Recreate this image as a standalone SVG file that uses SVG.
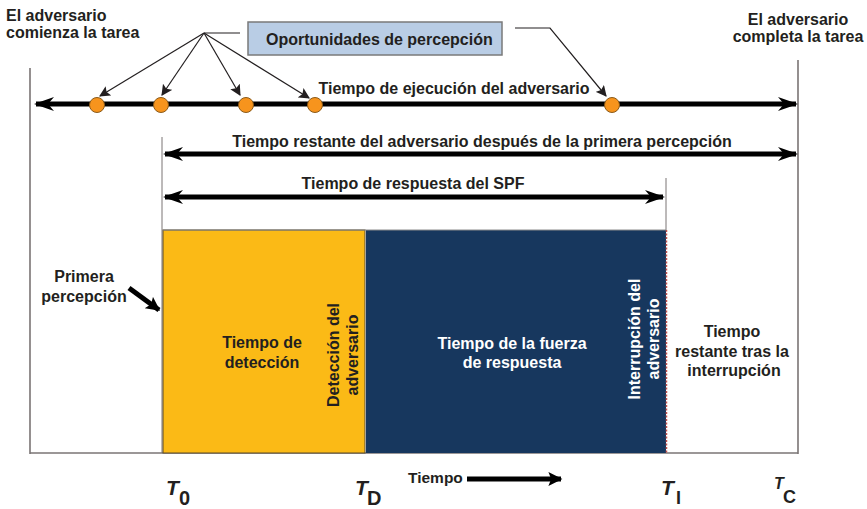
<svg xmlns="http://www.w3.org/2000/svg" width="867" height="509" viewBox="0 0 867 509">
<defs>
<style>
text{font-family:"Liberation Sans",Arial,sans-serif;font-weight:bold;fill:#231F20}
.t14{font-size:16px}
.w{fill:#ffffff}
.thin{stroke:#7a7474;stroke-width:1.6;fill:none}
.thick{stroke:#000;stroke-width:5;fill:none}
.call{stroke:#231F20;stroke-width:1.2;fill:none}
.dot{fill:#F7941D;stroke:#8a5a1a;stroke-width:1}
</style>
<marker id="ah" viewBox="0 0 20 14" refX="18" refY="7" markerWidth="20" markerHeight="14" markerUnits="userSpaceOnUse" orient="auto-start-reverse">
<path d="M0,0 L20,7 L0,14 L6,7 Z" fill="#000"/>
</marker>
<marker id="sa" viewBox="0 0 10 10" refX="9" refY="5" markerWidth="11" markerHeight="11" markerUnits="userSpaceOnUse" orient="auto">
<path d="M0,0 L10,5 L0,10 L2,5 Z" fill="#231F20"/>
</marker>
<marker id="ba" viewBox="0 0 10 10" refX="9" refY="5" markerWidth="16" markerHeight="14" markerUnits="userSpaceOnUse" orient="auto">
<path d="M0,0 L10,5 L0,10 L2,5 Z" fill="#000"/>
</marker>
</defs>

<g id="frame">
<line class="thin" x1="30" y1="68" x2="30" y2="454"/>
<line class="thin" x1="798" y1="60" x2="798" y2="454"/>
<line class="thin" x1="30" y1="453" x2="798" y2="453"/>
<line class="thin" x1="162" y1="137" x2="162" y2="453" style="stroke-width:1"/>
<line class="thin" x1="666" y1="178" x2="666" y2="230" style="stroke-width:1"/>
</g>

<g id="detection">
<rect x="163" y="230" width="202" height="223" fill="#FBBA16" stroke="#5a4a2a" stroke-width="1"/>
<text class="t14" x="262" y="348" text-anchor="middle">Tiempo de</text>
<text class="t14" x="262" y="368" text-anchor="middle">detección</text>
<text class="t14" transform="translate(339,355) rotate(-90)" text-anchor="middle">Detección del</text>
<text class="t14" transform="translate(358,355) rotate(-90)" text-anchor="middle">adversario</text>
</g>

<g id="response">
<rect x="366" y="230" width="300" height="223" fill="#17375E"/>
<line x1="666.5" y1="230" x2="666.5" y2="453" stroke="#c0504d" stroke-width="1.5" stroke-dasharray="2,1.5"/>
<text class="t14 w" x="512" y="349" text-anchor="middle">Tiempo de la fuerza</text>
<text class="t14 w" x="512" y="368" text-anchor="middle">de respuesta</text>
<text class="t14 w" transform="translate(640,339) rotate(-90)" text-anchor="middle">Interrupción del</text>
<text class="t14 w" transform="translate(659,339) rotate(-90)" text-anchor="middle">adversario</text>
</g>
<line x1="163" y1="230" x2="666" y2="230" stroke="#8a8a8a" stroke-width="1"/>

<g id="remaining">
<text class="t14" x="732" y="337" text-anchor="middle">Tiempo</text>
<text class="t14" x="732" y="357" text-anchor="middle">restante tras la</text>
<text class="t14" x="734" y="376" text-anchor="middle">interrupción</text>
</g>

<g id="labels">
<text class="t14" x="6" y="21">El adversario</text>
<text class="t14" x="6" y="38">comienza la tarea</text>
<text class="t14" x="798" y="25" text-anchor="middle">El adversario</text>
<text class="t14" x="798" y="42" text-anchor="middle">completa la tarea</text>
<text class="t14" x="84" y="282" text-anchor="middle">Primera</text>
<text class="t14" x="84" y="302" text-anchor="middle">percepción</text>
<text class="t14" x="454" y="94" text-anchor="middle">Tiempo de ejecución del adversario</text>
<text class="t14" x="482" y="147" text-anchor="middle">Tiempo restante del adversario después de la primera percepción</text>
<text class="t14" x="413" y="189" text-anchor="middle">Tiempo de respuesta del SPF</text>
</g>

<g id="callout">
<rect x="248" y="22" width="254" height="33" fill="#B9CDE5" stroke="#7a7a7a" stroke-width="1.5"/>
<text class="t14" x="266" y="45">Oportunidades de percepción</text>
</g>

<g id="connectors">
<line class="thick" x1="36" y1="104" x2="796" y2="104" marker-start="url(#ah)" marker-end="url(#ah)"/>
<line class="thick" x1="165" y1="154" x2="796" y2="154" marker-start="url(#ah)" marker-end="url(#ah)"/>
<line class="thick" x1="165" y1="197" x2="663" y2="197" marker-start="url(#ah)" marker-end="url(#ah)"/>
<line class="call" x1="204" y1="33" x2="240" y2="33"/>
<line class="call" x1="204" y1="33" x2="100" y2="96" marker-end="url(#sa)"/>
<line class="call" x1="204" y1="33" x2="162" y2="95" marker-end="url(#sa)"/>
<line class="call" x1="204" y1="33" x2="240" y2="95" marker-end="url(#sa)"/>
<line class="call" x1="204" y1="33" x2="309" y2="98" marker-end="url(#sa)"/>
<polyline class="call" points="515,28 550,28 606,96" marker-end="url(#sa)"/>
<line x1="129" y1="288" x2="159" y2="310" stroke="#000" stroke-width="5" marker-end="url(#ba)"/>
<line x1="467" y1="479" x2="561" y2="479" stroke="#000" stroke-width="5" marker-end="url(#ba)"/>
</g>

<g id="dots">
<circle class="dot" cx="97" cy="105" r="7.5"/>
<circle class="dot" cx="161" cy="105" r="7.5"/>
<circle class="dot" cx="246" cy="105" r="7.5"/>
<circle class="dot" cx="315" cy="105" r="7.5"/>
<circle class="dot" cx="612" cy="105" r="7.5"/>
</g>

<g id="axis">
<text x="408" y="483" style="font-size:15.5px">Tiempo</text>
<text x="166" y="495" style="font-size:21px;font-style:italic">T</text>
<text x="179" y="505" style="font-size:20px">0</text>
<text x="355" y="495" style="font-size:21px;font-style:italic">T</text>
<text x="367" y="505" style="font-size:20px">D</text>
<text x="661" y="495" style="font-size:21px;font-style:italic">T</text>
<text x="676" y="504" style="font-size:18px">I</text>
<text x="774" y="489" style="font-size:16px;font-style:italic">T</text>
<text x="783" y="503" style="font-size:18px">C</text>
</g>
</svg>
